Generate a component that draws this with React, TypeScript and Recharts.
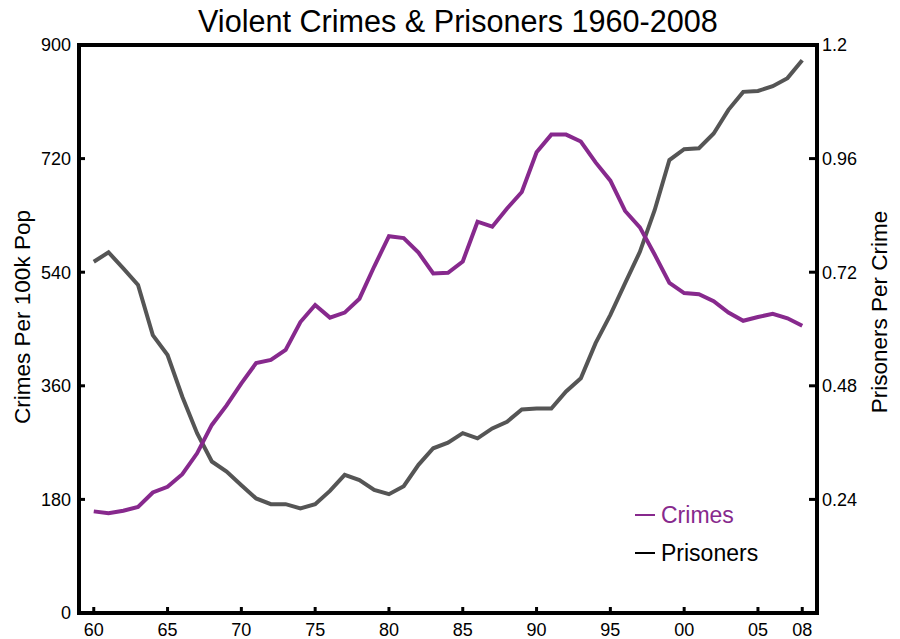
import { LineChart, Line, XAxis, YAxis, ReferenceLine, Legend } from "recharts"

const years = [
  1960, 1961, 1962, 1963, 1964, 1965, 1966, 1967, 1968, 1969,
  1970, 1971, 1972, 1973, 1974, 1975, 1976, 1977, 1978, 1979,
  1980, 1981, 1982, 1983, 1984, 1985, 1986, 1987, 1988, 1989,
  1990, 1991, 1992, 1993, 1994, 1995, 1996, 1997, 1998, 1999,
  2000, 2001, 2002, 2003, 2004, 2005, 2006, 2007, 2008,
]

// violent crimes per 100k population
const crimes = [
  161, 158, 162, 168, 191, 200, 220, 253, 298, 329,
  364, 396, 401, 417, 461, 488, 468, 476, 498, 549,
  597, 594, 571, 538, 539, 557, 620, 612, 641, 667,
  730, 758, 758, 747, 714, 685, 637, 611, 568, 523,
  507, 505, 494, 476, 463, 469, 474, 467, 455,
]

// prisoners per violent crime
const prisoners = [
  0.742, 0.762, 0.728, 0.693, 0.587, 0.545, 0.457, 0.38, 0.32, 0.299,
  0.27, 0.242, 0.23, 0.23, 0.221, 0.23, 0.258, 0.292, 0.281, 0.26,
  0.251, 0.268, 0.313, 0.348, 0.36, 0.38, 0.369, 0.39, 0.404, 0.43,
  0.432, 0.432, 0.468, 0.496, 0.57, 0.63, 0.697, 0.763, 0.851, 0.957,
  0.98, 0.982, 1.013, 1.063, 1.101, 1.103, 1.113, 1.13, 1.168,
]

const yearTicks = [1960, 1965, 1970, 1975, 1980, 1985, 1990, 1995, 2000, 2005, 2008]
const leftTicks = [0, 180, 360, 540, 720, 900]
const rightTicks = [0.24, 0.48, 0.72, 0.96, 1.2]

const data = years.map((year, i) => ({ year, crimes: crimes[i], prisoners: prisoners[i] }))

const font = '"Liberation Sans", Arial, Helvetica, sans-serif'
const purple = "#87298d"
const gray = "#555555"

const tickStyle = { fill: "#000", fontSize: 18, fontFamily: font }
const axisLine = { stroke: "#000", strokeWidth: 4, strokeLinecap: "square" as const }
const tickLine = { stroke: "#000", strokeWidth: 3 }

// rotated axis title, cx = centre from the axis box's left edge, lift = shift up from the middle
function axisTitle(text: string, cx: number, lift: number) {
  return ({ viewBox }: any) => {
    const x = viewBox.x + cx
    const y = viewBox.y + viewBox.height / 2 - lift
    return (
      <text
        x={x}
        y={y}
        transform={`rotate(-90, ${x}, ${y})`}
        textAnchor="middle"
        dominantBaseline="central"
        fontSize={22.5}
        fontFamily={font}
        fill="#000"
      >
        {text}
      </text>
    )
  }
}

function LegendBox() {
  const row = { display: "flex", alignItems: "center", height: 38 }
  const mark = (c: string) => ({ display: "inline-block", width: 20, height: 2, background: c, marginRight: 6 })
  return (
    <div style={{ fontFamily: font, fontSize: 23 }}>
      <div style={{ ...row, color: purple }}>
        <span style={mark(purple)} />
        Crimes
      </div>
      <div style={{ ...row, color: "#000" }}>
        <span style={mark("#000")} />
        Prisoners
      </div>
    </div>
  )
}

export default function App() {
  return (
    <div style={{ position: "absolute", left: 0, top: 0, width: 900, height: 639, background: "#fff" }}>
      <div
        style={{
          position: "absolute",
          left: 198,
          top: 6,
          fontFamily: font,
          fontSize: 30.6,
          lineHeight: "30px",
          whiteSpace: "nowrap",
          color: "#000",
        }}
      >
        Violent Crimes &amp; Prisoners 1960-2008
      </div>
      <LineChart width={900} height={639} data={data} margin={{ top: 45, right: 0, bottom: 0, left: 0 }}>
        <XAxis
          dataKey="year"
          type="number"
          domain={[1959, 2009]}
          ticks={yearTicks}
          interval={0}
          height={26}
          tickFormatter={(v: number) => String(v % 100).padStart(2, "0")}
          tick={tickStyle}
          axisLine={axisLine}
          tickLine={tickLine}
          tickSize={-6}
          tickMargin={16}
        />
        <YAxis
          yAxisId="left"
          domain={[0, 900]}
          ticks={leftTicks}
          interval={0}
          width={79}
          tick={tickStyle}
          axisLine={axisLine}
          tickLine={tickLine}
          tickSize={-6}
          tickMargin={14}
          label={{ content: axisTitle("Crimes Per 100k Pop", 22, 12) }}
        />
        <YAxis
          yAxisId="right"
          orientation="right"
          domain={[0, 1.2]}
          ticks={rightTicks}
          interval={0}
          width={83}
          tick={tickStyle}
          axisLine={axisLine}
          tickLine={tickLine}
          tickSize={-8}
          tickMargin={13}
          label={{ content: axisTitle("Prisoners Per Crime", 62, 17) }}
        />
        <ReferenceLine yAxisId="left" y={900} stroke="#000" strokeWidth={4} ifOverflow="visible" />
        <Line
          yAxisId="right"
          dataKey="prisoners"
          stroke={gray}
          strokeWidth={4}
          dot={false}
          activeDot={false}
          isAnimationActive={false}
        />
        <Line
          yAxisId="left"
          dataKey="crimes"
          stroke={purple}
          strokeWidth={4}
          dot={false}
          activeDot={false}
          isAnimationActive={false}
        />
        <Legend
          content={() => <LegendBox />}
          layout="vertical"
          align="center"
          verticalAlign="middle"
          wrapperStyle={{ position: "absolute", left: 635, top: 496, width: "auto" }}
        />
      </LineChart>
    </div>
  )
}
